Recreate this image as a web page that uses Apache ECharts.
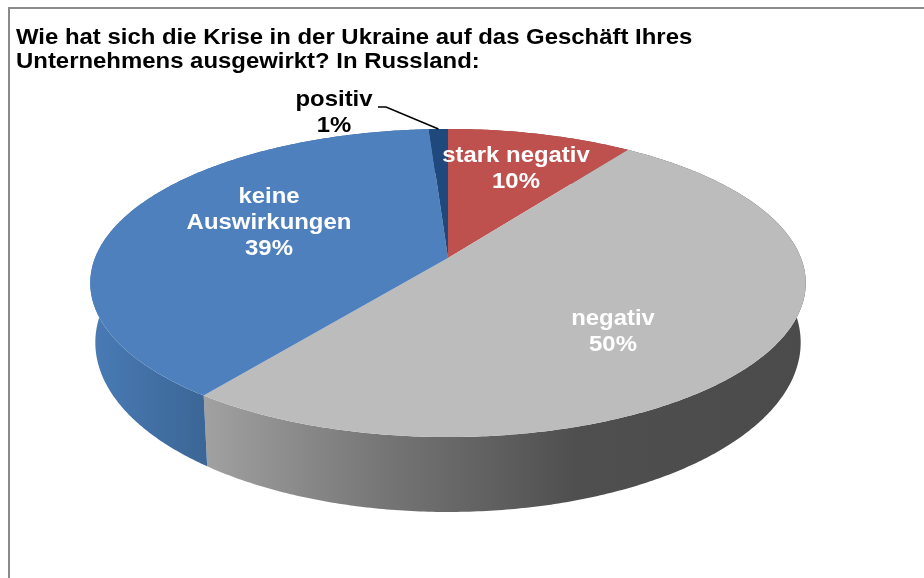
<!DOCTYPE html>
<html>
<head>
<meta charset="utf-8">
<style>
  html, body { margin: 0; padding: 0; background: #fff; }
  #chart { width: 924px; height: 578px; }
</style>
<script src="https://cdn.jsdelivr.net/npm/echarts@6/dist/echarts.min.js"></script>
</head>
<body>
<div id="chart"></div>
<script>
const titleText = 'Wie hat sich die Krise in der Ukraine auf das Geschäft Ihres\nUnternehmens ausgewirkt? In Russland:'
const names = ['stark negativ', 'negativ', 'keine\nAuswirkungen', 'positiv']
const values = [9.8, 50.49, 38.71, 1.0]

const topColors = ['#be504e', '#bcbcbc', '#4e80bd', '#1f497d']
const labelColors = ['#fff', '#fff', '#fff', '#000']
const labelSpots = [[516, 169], [613, 332], [269, 223], [334, 113]]

// the source picture is stretched sideways, text gets the same stretch
const TEXT_STRETCH = 1.087

// perspective ellipse: same angle on both rings, far side is squeezed by k
const K = 0.1623
const topRing = { cx: 448, cy: 258, a: 353, b: 150 }
const baseRing = { cx: 448, cy: 315, a: 348, b: 165 }

let total = values.reduce((s, v) => s + v, 0)
let angles = []
let sum = 0
values.forEach(v => {
  angles.push([sum / total * Math.PI * 2, (sum + v) / total * Math.PI * 2])
  sum += v
})

function project(ring, theta, r) {
  let u = Math.sin(theta) * r
  let v = Math.cos(theta) * r
  let w = 1 + K * v
  return [ring.cx + ring.a * u / w, ring.cy - ring.b * v / w]
}

function arc(ring, from, to) {
  let pts = []
  let n = Math.max(2, Math.ceil((to - from) / 0.01))
  for (let i = 0; i <= n; i++) {
    pts.push(project(ring, from + (to - from) * i / n, 1))
  }
  return pts
}

const wallFills = [
  '#8f3b39',
  new echarts.graphic.LinearGradient(200, 0, 806, 0, [
    { offset: 0, color: '#a2a2a2' },
    { offset: 0.3, color: '#767676' },
    { offset: 0.62, color: '#4f4f4f' },
    { offset: 1, color: '#4b4b4b' }
  ], true),
  new echarts.graphic.LinearGradient(95, 0, 206, 0, [
    { offset: 0, color: '#497ab4' },
    { offset: 1, color: '#3b6696' }
  ], true),
  '#173a63'
]

function renderWall(params) {
  let i = params.dataIndex
  let top = arc(topRing, angles[i][0], angles[i][1])
  let base = arc(baseRing, angles[i][0], angles[i][1]).reverse()
  return {
    type: 'polygon',
    shape: { points: top.concat(base) },
    style: { fill: wallFills[i] },
    silent: true
  }
}

function renderTop(params) {
  let i = params.dataIndex
  let pts = [project(topRing, 0, 0)].concat(arc(topRing, angles[i][0], angles[i][1]))
  return {
    type: 'polygon',
    shape: { points: pts },
    style: { fill: topColors[i] },
    silent: true
  }
}

function renderLabel(params, api) {
  let i = params.dataIndex
  let spot = labelSpots[i]
  let text = {
    type: 'text',
    silent: true,
    x: spot[0],
    y: spot[1],
    scaleX: TEXT_STRETCH,
    style: {
      text: names[i] + '\n' + Math.round(api.value(0)) + '%',
      x: 0,
      y: 0,
      fill: labelColors[i],
      font: 'bold 22px "Liberation Sans", Arial, sans-serif',
      lineHeight: 26,
      align: 'center',
      verticalAlign: 'middle'
    }
  }
  if (names[i] != 'positiv') return text
  // leader line of the small slice
  let end = project(topRing, (angles[i][0] + angles[i][1]) / 2, 1)
  return {
    type: 'group',
    children: [text, {
      type: 'polyline',
      silent: true,
      shape: { points: [[378, 107], [386, 107], [end[0], end[1]]] },
      style: { stroke: '#000', lineWidth: 1.5, fill: 'none' }
    }]
  }
}

const chart = echarts.init(document.getElementById('chart'), null, { renderer: 'canvas' })
let seriesData = values.map(v => [v])
chart.setOption({
  animation: false,
  backgroundColor: '#fff',
  graphic: [{
    type: 'polyline',
    silent: true,
    shape: { points: [[9, 578], [9, 8], [924, 8]] },
    style: { stroke: '#8a8a8a', lineWidth: 2, fill: 'none' }
  }, {
    type: 'text',
    silent: true,
    x: 16,
    y: 50,
    scaleX: TEXT_STRETCH,
    style: {
      text: titleText,
      x: 0,
      y: 0,
      fill: '#000',
      font: 'bold 22px "Liberation Sans", Arial, sans-serif',
      lineHeight: 24,
      align: 'left',
      verticalAlign: 'middle'
    }
  }],
  series: [
    { type: 'custom', coordinateSystem: 'none', data: seriesData, renderItem: renderWall, z: 1 },
    { type: 'custom', coordinateSystem: 'none', data: seriesData, renderItem: renderTop, z: 2 },
    { type: 'custom', coordinateSystem: 'none', data: seriesData, renderItem: renderLabel, z: 3 }
  ]
})
</script>
</body>
</html>
